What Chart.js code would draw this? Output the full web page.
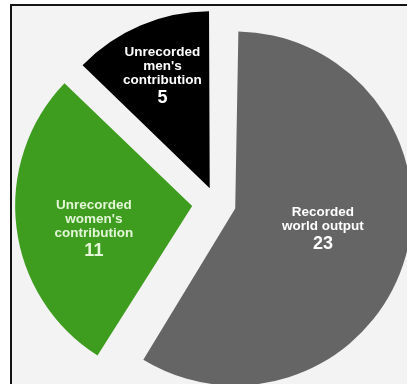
<!DOCTYPE html>
<html>
<head>
<meta charset="utf-8">
<script src="https://cdn.jsdelivr.net/npm/chart.js@4.4.1/dist/chart.umd.min.js"></script>
<style>
  html, body { margin: 0; padding: 0; background: #fff; }
  #frame {
    position: absolute; left: 10px; top: 4px; width: 397px; height: 380px;
    box-sizing: border-box; background: #f3f3f3;
    border-left: 2px solid #141414; border-top: 2px solid #141414;
  }
  #wrap { position: absolute; left: 0; top: 0; width: 407px; height: 384px; }
</style>
</head>
<body>
<div id="frame"></div>
<div id="wrap"><canvas id="pie" width="407" height="384"></canvas></div>
<script>
// World output split, in trillions
const sliceNames = [
  ["Recorded", "world output"],
  ["Unrecorded", "women's", "contribution"],
  ["Unrecorded", "men's", "contribution"],
]
const sliceValues = [23, 11, 5]
const sliceColors = ["#656565", "#3e9d1f", "#000000"]
const textColors = ["#ffffff", "#e4f6d8", "#ffffff"]

// how far each slice is pulled out of the pie (px) and where its label sits
const pullOut = [20, 24, 16]
const labelDepth = [0.508, 0.569, 0.694]
const labelSweep = [0.487, 0.453, 0.508]
const pieRadius = 177

// the arc element grows its radius with the offset; put it back so every slice keeps pieRadius
const keepRadius = {
  id: "keepRadius",
  afterDatasetUpdate(chart, args) {
    args.meta.data.forEach((arc) => {
      const shift = (arc.options.offset || 0) / 4
      const fix = 1 - Math.sin(Math.min(Math.PI, arc.circumference))
      arc.outerRadius = pieRadius - shift * fix
    })
  },
}

const sliceLabels = {
  id: "sliceLabels",
  afterDatasetsDraw(chart) {
    const ctx = chart.ctx
    chart.getDatasetMeta(0).data.forEach((arc, i) => {
      const angle = arc.startAngle + (arc.endAngle - arc.startAngle) * labelSweep[i]
      const d = pullOut[i] + labelDepth[i] * pieRadius
      const x = arc.x + Math.cos(angle) * d
      const y = arc.y + Math.sin(angle) * d
      const lines = sliceNames[i]
      let ty = y - (lines.length * 14 + 18) / 2 + 7

      ctx.save()
      ctx.fillStyle = textColors[i]
      ctx.textAlign = "center"
      ctx.textBaseline = "middle"
      ctx.font = "bold 13.5px 'Liberation Sans', Arial, sans-serif"
      lines.forEach((line) => {
        ctx.fillText(line, x, ty)
        ty += 14
      })
      ctx.font = "bold 18px 'Liberation Sans', Arial, sans-serif"
      ctx.fillText(String(sliceValues[i]), x, ty + 4)
      ctx.restore()
    })
  },
}

new Chart(document.getElementById("pie"), {
  type: "pie",
  data: {
    labels: sliceNames.map((l) => l.join(" ")),
    datasets: [
      {
        data: sliceValues,
        backgroundColor: sliceColors,
        borderWidth: 0,
        offset: pullOut.map((p) => p * 4),
      },
    ],
  },
  options: {
    responsive: false,
    animation: false,
    events: [],
    radius: pieRadius,
    layout: { padding: { left: 25, top: 22, right: 0, bottom: 0 } },
    plugins: {
      legend: { display: false },
      tooltip: { enabled: false },
    },
  },
  plugins: [keepRadius, sliceLabels],
})
</script>
</body>
</html>
